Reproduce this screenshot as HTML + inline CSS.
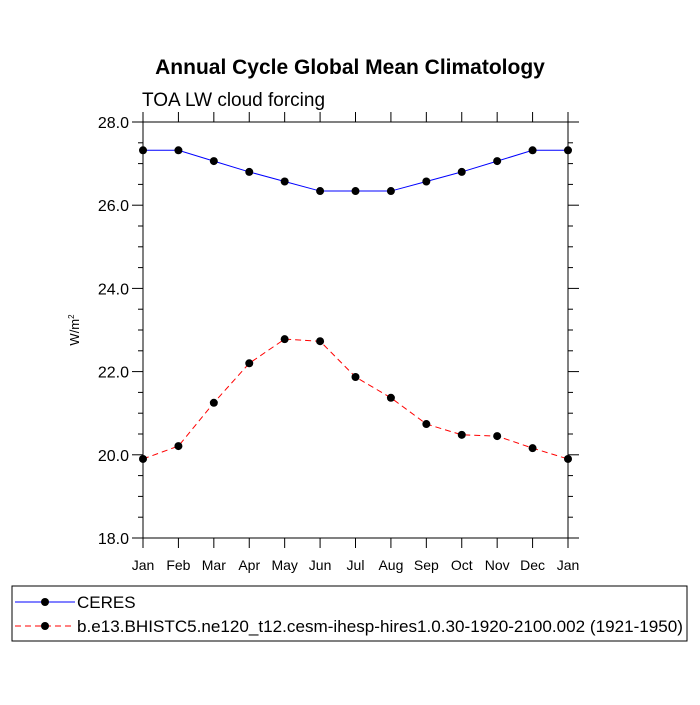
<!DOCTYPE html>
<html><head><meta charset="utf-8"><style>
body{margin:0;background:#fff}
svg text{font-family:"Liberation Sans",sans-serif}
</style></head><body>
<svg id="c" width="700" height="700" xmlns="http://www.w3.org/2000/svg">
<text x="350" y="74" text-anchor="middle" font-size="21" font-weight="bold">Annual Cycle Global Mean Climatology</text>
<text x="142" y="106" font-size="19">TOA LW cloud forcing</text>
<text transform="translate(79,330) rotate(-90)" text-anchor="middle" font-size="13">W/m<tspan font-size="8" dy="-5">2</tspan></text>
<g id="axes"></g>
<g id="series"></g>
<g>
<rect x="12" y="586" width="675" height="55" fill="none" stroke="#000" stroke-width="1"/>
<line x1="15" y1="602" x2="75" y2="602" stroke="#00f" stroke-width="1"/>
<circle cx="45" cy="602" r="4" fill="#000"/>
<text x="77" y="608" font-size="17">CERES</text>
<line x1="15" y1="626" x2="75" y2="626" stroke="#f00" stroke-width="1" stroke-dasharray="6,4"/>
<circle cx="45" cy="626" r="4" fill="#000"/>
<text x="77" y="632" font-size="17" textLength="606" lengthAdjust="spacingAndGlyphs">b.e13.BHISTC5.ne120_t12.cesm-ihesp-hires1.0.30-1920-2100.002 (1921-1950)</text>
</g>
</svg>
<script>
const months=["Jan","Feb","Mar","Apr","May","Jun","Jul","Aug","Sep","Oct","Nov","Dec","Jan"];
const ceres=[27.32,27.32,27.06,26.8,26.57,26.34,26.34,26.34,26.57,26.8,27.06,27.32,27.32];
const model=[19.9,20.21,21.25,22.2,22.78,22.73,21.87,21.37,20.74,20.48,20.45,20.16,19.9];
const yTicks=["18.0","20.0","22.0","24.0","26.0","28.0"];
const NS="http://www.w3.org/2000/svg";
const X0=143,X1=568,Y0=122,Y1=538,YMIN=18,YMAX=28;
const xs=i=>X0+(X1-X0)*i/(months.length-1);
const ys=v=>Y1-(v-YMIN)/(YMAX-YMIN)*(Y1-Y0);
function mk(t,a,p){const e=document.createElementNS(NS,t);for(const k in a)e.setAttribute(k,a[k]);p.appendChild(e);return e;}
const ax=document.getElementById('axes');
const frame=mk('rect',{x:X0,y:Y0,width:X1-X0,height:Y1-Y0,fill:'none',stroke:'#000','stroke-width':1},ax);


months.forEach((m,i)=>{
  const x=xs(i);
  mk('line',{x1:x,y1:Y1,x2:x,y2:Y1+10,stroke:'#000'},ax);
  mk('line',{x1:x,y1:Y0,x2:x,y2:Y0-10,stroke:'#000'},ax);
  const t=mk('text',{x:x,y:Y1+32,'text-anchor':'middle','font-size':14},ax);
  t.textContent=m;
  
  
});
for(let v=YMIN;v<=YMAX+1e-9;v+=0.5){
  const y=ys(v);const major=Math.abs(v%2)<1e-9;const L=major?11:5;
  mk('line',{x1:X0-L,y1:y,x2:X0,y2:y,stroke:'#000'},ax);
  mk('line',{x1:X1,y1:y,x2:X1+L,y2:y,stroke:'#000'},ax);
}
yTicks.forEach(s=>{
  const t=mk('text',{x:X0-14,y:ys(parseFloat(s))+6,'text-anchor':'end','font-size':16},ax);
  t.textContent=s;
  
  
});
const sg=document.getElementById('series');
function series(d,color,dash,name){
  const g=mk('g',{},sg);
  
  
  const a={points:d.map((v,i)=>xs(i)+','+ys(v)).join(' '),fill:'none',stroke:color,'stroke-width':1};
  if(dash)a['stroke-dasharray']=dash;
  mk('polyline',a,g);
  d.forEach((v,i)=>{const c=mk('circle',{cx:xs(i),cy:ys(v),r:4,fill:'#000'},g);
    
    });
}
series(ceres,'#00f',null,'series-ceres');
series(model,'#f00','6,4','series-model');
</script>
</body></html>
